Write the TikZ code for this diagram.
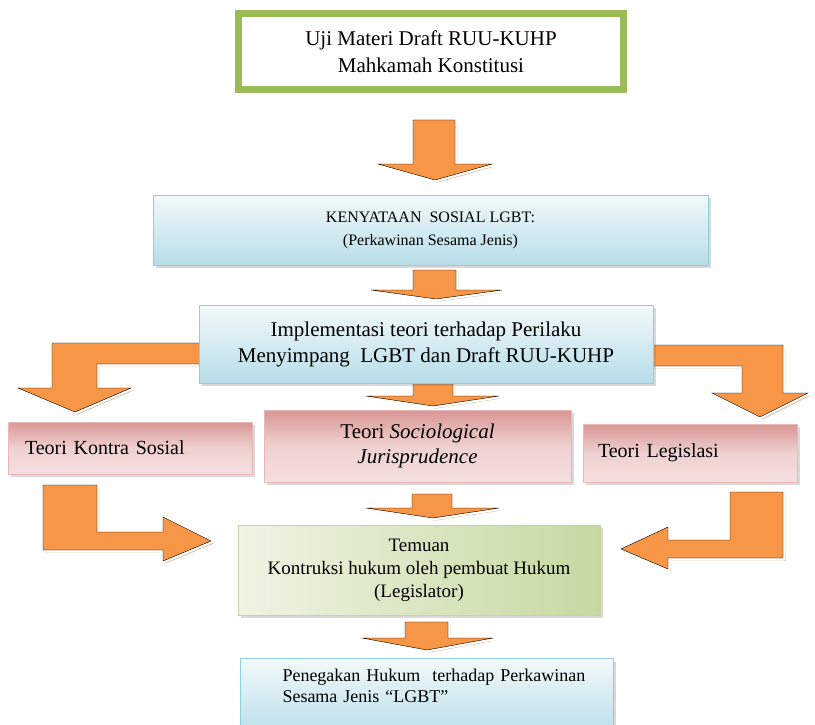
\documentclass[tikz,border=0pt]{standalone}
\usepackage{fontspec}
\setmainfont{Liberation Serif}
\usetikzlibrary{shadows}

\definecolor{olivegreen}{HTML}{9BBB59}
\definecolor{arroworange}{HTML}{F79646}
\definecolor{arrowshade}{HTML}{D8B28F}
\definecolor{blueedge}{HTML}{92CDDC}
\definecolor{bluetop}{HTML}{F2F9FB}
\definecolor{bluebot}{HTML}{B7DDE8}
\definecolor{pinkedge}{HTML}{E6B9B8}
\definecolor{pinktop}{HTML}{D99694}
\definecolor{pinkbot}{HTML}{F4E0DF}
\definecolor{greenedge}{HTML}{C3D69B}
\definecolor{greenleft}{HTML}{EEF4E4}
\definecolor{greenright}{HTML}{C6D9A0}

\begin{document}
\begin{tikzpicture}[x=1pt,y=-1pt]
    \tikzstyle{topbox}=[rectangle,draw=olivegreen,line width=6pt,fill=white,minimum width=386pt,minimum height=77pt,align=center]
    \tikzstyle{boxshadow}=[drop shadow={shadow xshift=3pt,shadow yshift=-3pt,opacity=.3}]
    \tikzstyle{bluebox}=[rectangle,draw=blueedge,line width=1pt,top color=bluetop,bottom color=bluebot,boxshadow]
    \tikzstyle{pinkbox}=[rectangle,draw=pinkedge,line width=.8pt,top color=pinktop,bottom color=pinkbot,middle color=pinkbot!80!pinktop,boxshadow]
    \tikzstyle{greenbox}=[rectangle,draw=greenedge,line width=1pt,left color=greenleft,right color=greenright,boxshadow]
    \tikzstyle{blockarrow}=[fill=arroworange,
      drop shadow={shadow xshift=2.5pt,shadow yshift=-2.5pt,fill=arrowshade,opacity=1},
      preaction={draw=white,line width=5pt,line join=round}]

    \useasboundingbox (0,0) rectangle (815,725);

    % straight arrows
    \draw [blockarrow] (413,120) -- (455,120) -- (455,164) -- (492,164) -- (435,180) -- (378,164) -- (413,164) -- cycle;
    \draw [blockarrow] (413,270) -- (456,270) -- (456,290) -- (502,290) -- (436,299) -- (371,290) -- (413,290) -- cycle;
    \draw [blockarrow] (413,384) -- (453,384) -- (453,396) -- (499,396) -- (433,406) -- (366,396) -- (413,396) -- cycle;
    \draw [blockarrow] (412,494) -- (452,494) -- (452,508) -- (499,508) -- (433,518) -- (366,508) -- (412,508) -- cycle;
    \draw [blockarrow] (405,622) -- (448,622) -- (448,638) -- (493,638) -- (427,650) -- (362,638) -- (405,638) -- cycle;

    % bent arrows
    \draw [blockarrow] (205,343) -- (52,343) -- (52,388) -- (18,388) -- (75,412) -- (131,388) -- (97,388) -- (97,364) -- (205,364) -- cycle;
    \draw [blockarrow] (647,345) -- (783,345) -- (783,393) -- (808,393) -- (760,417) -- (712,393) -- (742,393) -- (742,366) -- (647,366) -- cycle;
    \draw [blockarrow] (43,485) -- (97,485) -- (97,532) -- (163,532) -- (163,517) -- (211,541) -- (163,561) -- (163,550) -- (43,550) -- cycle;
    \draw [blockarrow] (783,492) -- (730,492) -- (730,540) -- (668,540) -- (668,527) -- (621,549) -- (668,569) -- (668,558) -- (783,558) -- cycle;

    % boxes
    \node [topbox,font=\fontsize{21}{27}\selectfont] at (431,51.5) (uji) {Uji Materi Draft RUU-KUHP\\ Mahkamah Konstitusi};
    \draw [draw=olivegreen,line width=1.2pt] ([xshift=6.5pt,yshift=-6.5pt]uji.north west) rectangle ([xshift=-6.5pt,yshift=6.5pt]uji.south east);

    \node [bluebox,minimum width=555pt,minimum height=70pt,align=center,font=\fontsize{16}{23}\selectfont] at (430.5,230) (sosial)
      {KENYATAAN\ \ SOSIAL LGBT:\\ (Perkawinan\ Sesama Jenis)};

    \node [bluebox,minimum width=454pt,minimum height=78pt,align=center,font=\fontsize{21}{26}\selectfont] at (426,344) (teori)
      {Implementasi teori terhadap Perilaku\\ Menyimpang\ \ LGBT dan Draft RUU-KUHP};

    \node [pinkbox,minimum height=52pt,text width=210pt,inner xsep=17pt,align=left,font=\fontsize{20}{24}\selectfont] at (130,448) (kontra)
      {Teori Kontra Sosial};
    \node [pinkbox,minimum width=307pt,minimum height=72pt,align=center,font=\fontsize{21}{25}\selectfont] at (417.5,446) (socio)
      {Teori \textit{Sociological}\\ \textit{Jurisprudence}};
    \node [pinkbox,minimum height=58pt,text width=184pt,inner xsep=15pt,align=left,font=\fontsize{20}{24}\selectfont] at (690,453) (legis)
      {Teori Legislasi};

    \node [greenbox,minimum width=362pt,minimum height=90pt,align=center,font=\fontsize{19}{23}\selectfont] at (419,570) (temuan)
      {Temuan\\ Kontruksi hukum\ oleh pembuat Hukum\\ (Legislator)};

    \node [bluebox,anchor=north,minimum width=373pt,text width=340pt,inner xsep=16.5pt,inner ysep=11pt,text depth=45pt,align=left,font=\fontsize{18}{21}\selectfont] at (426.5,658) (tegak)
      {\hspace*{26pt}Penegakan Hukum\ \ terhadap Perkawinan\\ \hspace*{26pt}Sesama Jenis ``LGBT''};

\end{tikzpicture}
\end{document}
